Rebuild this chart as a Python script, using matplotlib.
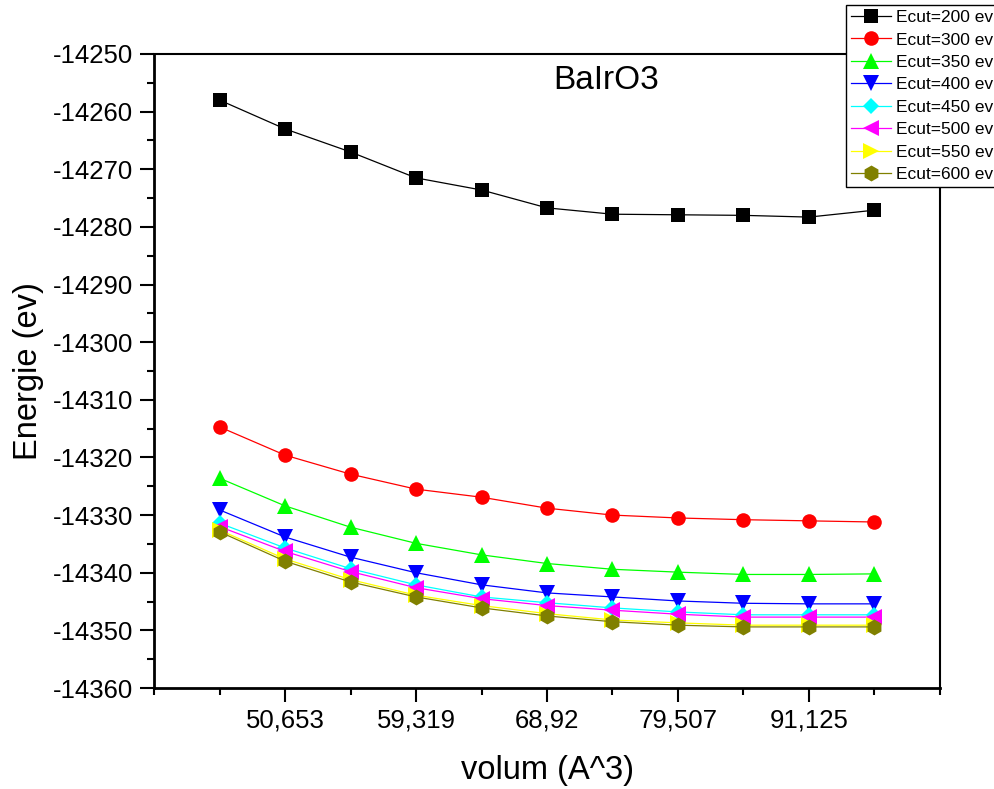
import matplotlib
matplotlib.use("Agg")
import matplotlib.pyplot as plt
from matplotlib.ticker import MultipleLocator, FixedLocator, FixedFormatter

plt.rcParams['font.family'] = ['Liberation Sans', 'DejaVu Sans']
plt.rcParams['axes.unicode_minus'] = False

# x positions are the 11 volume points (categorical, evenly spaced)
positions = [1, 2, 3, 4, 5, 6, 7, 8, 9, 10, 11]
tick_pos = [2, 4, 6, 8, 10]
tick_labels = ["50,653", "59,319", "68,92", "79,507", "91,125"]

e200 = [-14258.0, -14263.0, -14267.0, -14271.5, -14273.6, -14276.7, -14277.8, -14277.9, -14278.0, -14278.3, -14277.1]
e300 = [-14314.7, -14319.6, -14322.9, -14325.5, -14326.9, -14328.8, -14330.0, -14330.5, -14330.8, -14331.0, -14331.2]
e350 = [-14323.6, -14328.4, -14332.1, -14334.9, -14336.9, -14338.4, -14339.4, -14339.9, -14340.3, -14340.3, -14340.2]
e400 = [-14329.1, -14333.8, -14337.3, -14340.0, -14342.1, -14343.5, -14344.2, -14344.9, -14345.3, -14345.4, -14345.4]
e450 = [-14331.4, -14335.7, -14339.3, -14342.1, -14344.2, -14345.2, -14346.1, -14346.8, -14347.3, -14347.3, -14347.3]
e500 = [-14332.0, -14336.3, -14339.8, -14342.6, -14344.5, -14345.7, -14346.5, -14347.2, -14347.7, -14347.7, -14347.7]
e550 = [-14332.6, -14337.6, -14341.2, -14343.9, -14345.7, -14347.1, -14348.2, -14348.7, -14349.1, -14349.1, -14349.1]
e600 = [-14332.9, -14338.0, -14341.6, -14344.2, -14346.1, -14347.5, -14348.5, -14349.1, -14349.4, -14349.4, -14349.4]

series = [
    ("Ecut=200 ev", e200, "black", "s", 9.5),
    ("Ecut=300 ev", e300, "red", "o", 10.5),
    ("Ecut=350 ev", e350, "#00ff00", "^", 11.5),
    ("Ecut=400 ev", e400, "blue", "v", 11.5),
    ("Ecut=450 ev", e450, "cyan", "D", 8.5),
    ("Ecut=500 ev", e500, "magenta", "<", 11.5),
    ("Ecut=550 ev", e550, "yellow", ">", 11.5),
    ("Ecut=600 ev", e600, "#808000", "h", 11.5),
]


def make_plot():
    fig = plt.figure(figsize=(9.95, 7.89), dpi=100)
    ax = fig.add_axes([0.1548, 0.128, 0.7899, 0.8036])
    for label, vals, color, marker, ms in series:
        ax.plot(positions, vals, color=color, marker=marker, markersize=ms,
                linewidth=0.9, label=label, markeredgewidth=0)

    ax.set_xlim(0, 12)
    ax.set_ylim(-14360, -14250)
    ax.xaxis.set_major_locator(FixedLocator(tick_pos))
    ax.xaxis.set_major_formatter(FixedFormatter(tick_labels))
    ax.xaxis.set_minor_locator(FixedLocator([0, 1, 3, 5, 7, 9, 11, 12]))
    ax.yaxis.set_major_locator(MultipleLocator(10))
    ax.yaxis.set_minor_locator(MultipleLocator(5))
    ax.tick_params(which="major", direction="out", length=10, width=1.5, labelsize=18.5)
    ax.tick_params(which="minor", direction="out", length=5, width=1.5)
    ax.tick_params(axis="x", which="major", pad=5)
    ax.tick_params(axis="y", which="major", pad=5)

    for side in ["left", "bottom"]:
        ax.spines[side].set_linewidth(2)
    for side in ["top", "right"]:
        ax.spines[side].set_linewidth(1.5)

    ax.set_xlabel("volum (A^3)", fontsize=23.5, labelpad=16)
    ax.set_ylabel("Energie (ev)", fontsize=23.5, labelpad=6)
    ax.text(0.508, 0.982, "BaIrO3", transform=ax.transAxes, fontsize=24, va="top")

    leg = ax.legend(loc="upper right", bbox_to_anchor=(1.004, 0.994),
                    bbox_transform=fig.transFigure, fontsize=12.5,
                    frameon=True, fancybox=False, edgecolor="black",
                    framealpha=1, handlelength=2.3, borderpad=0.3,
                    labelspacing=0.42, handletextpad=0.3, borderaxespad=0)
    leg.get_frame().set_linewidth(1)
    leg.set_zorder(10)
    fig.savefig("out.png", dpi=100)


def main():
    make_plot()


if __name__ == "__main__":
    main()
